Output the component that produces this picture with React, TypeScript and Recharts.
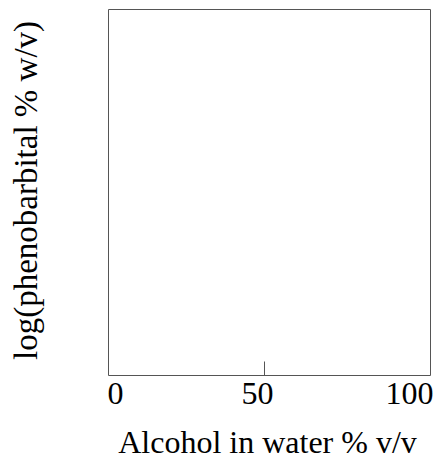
import React from "react";
import { ComposedChart, Line, XAxis, YAxis } from "recharts";

// Data: the reference shows an empty plot (no series drawn)
const xTicks: number[] = [0, 50, 100];
const xDomainMax = 103.2;
const yDomain: [number, number] = [0, 1];
const seriesValues: (number | null)[] = [null, null, null];

const xTitle = "Alcohol in water % v/v";
const yTitle = "log(phenobarbital % w/v)";

const data = xTicks.map((x, i) => ({ x, y: seriesValues[i] }));

const FONT = "Liberation Serif, Times New Roman, serif";
const AXIS_COLOR = "#555";

const XTick = (props: any) => {
  const { x, y, payload, index, visibleTicksCount } = props;
  const last = visibleTicksCount - 1;
  let anchor: "start" | "middle" | "end" = "middle";
  let dx = -7;
  if (index === 0) {
    anchor = "start";
    dx = -1;
  } else if (index === last) {
    anchor = "end";
    dx = 13;
  }
  const inner = index !== 0 && index !== last;
  return (
    <g>
      {inner && <line x1={x} x2={x} y1={y} y2={y - 14} stroke={AXIS_COLOR} strokeWidth={1} />}
      <text x={x} y={y} dx={dx} dy={28.5} textAnchor={anchor} fontFamily={FONT} fontSize={32} fill="#000">
        {payload.value}
      </text>
    </g>
  );
};

export default function App() {
  return (
    <div style={{ position: "absolute", left: 0, top: 0, width: 434, height: 459 }}>
      <ComposedChart
        width={434}
        height={459}
        data={data}
        margin={{ top: 8.5, right: 2.5, bottom: 0, left: 0 }}
      >
        <XAxis
          xAxisId="b"
          dataKey="x"
          type="number"
          domain={[0, xDomainMax]}
          ticks={xTicks}
          interval={0}
          height={83.5}
          tickSize={0}
          tickMargin={0}
          tickLine={false}
          axisLine={{ stroke: AXIS_COLOR, strokeWidth: 1 }}
          tick={<XTick />}
          label={{
            value: xTitle,
            position: "insideBottom",
            offset: 6,
            dx: -2,
            fontFamily: FONT,
            fontSize: 32,
            fill: "#000",
          }}
        />
        <XAxis
          xAxisId="t"
          orientation="top"
          dataKey="x"
          type="number"
          domain={[0, xDomainMax]}
          height={1}
          tick={false}
          tickLine={false}
          axisLine={{ stroke: AXIS_COLOR, strokeWidth: 1 }}
        />
        <YAxis
          yAxisId="l"
          type="number"
          domain={yDomain}
          width={108.5}
          tick={false}
          tickLine={false}
          axisLine={{ stroke: AXIS_COLOR, strokeWidth: 1 }}
          label={{
            value: yTitle,
            angle: -90,
            position: "center",
            dx: -29,
            dy: -2,
            fontFamily: FONT,
            fontSize: 33,
            fill: "#000",
          }}
        />
        <YAxis
          yAxisId="r"
          orientation="right"
          type="number"
          domain={yDomain}
          width={1}
          tick={false}
          tickLine={false}
          axisLine={{ stroke: AXIS_COLOR, strokeWidth: 1 }}
        />
        <Line
          xAxisId="b"
          yAxisId="l"
          dataKey="y"
          stroke="#000"
          dot={false}
          isAnimationActive={false}
        />
        <Line
          xAxisId="t"
          yAxisId="r"
          dataKey="y"
          stroke="#000"
          dot={false}
          isAnimationActive={false}
        />
      </ComposedChart>
    </div>
  );
}
